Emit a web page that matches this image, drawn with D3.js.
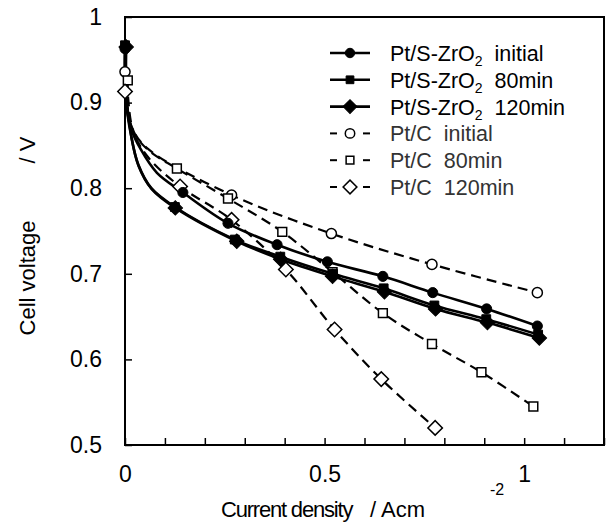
<!DOCTYPE html>
<html>
<head>
<meta charset="utf-8">
<script src="https://cdn.jsdelivr.net/npm/d3@7"></script>
<style>
  body { margin: 0; background: #fff; }
  svg text { font-family: "Liberation Sans", Arial, sans-serif; }
</style>
</head>
<body>
<div id="chart"></div>
<script>
var svgWidth = 606;
var svgHeight = 531;

var margin = { top: 17, right: 2, bottom: 86, left: 125 };
var width = svgWidth - margin.left - margin.right;
var height = svgHeight - margin.top - margin.bottom;

// series names (legend order)
var seriesNames = ["initial", "80min", "120min", "initial", "80min", "120min"];

// measured points (with markers): [current density, cell voltage]
var szInitial = [[0, 0.963], [0.145, 0.795], [0.258, 0.759], [0.381, 0.734], [0.507, 0.714],
  [0.646, 0.697], [0.771, 0.678], [0.906, 0.659], [1.033, 0.639]];
var sz80 = [[0, 0.967], [0.125, 0.778], [0.275, 0.740], [0.389, 0.720], [0.521, 0.700],
  [0.648, 0.683], [0.775, 0.663], [0.905, 0.647], [1.035, 0.629]];
var sz120 = [[0.003, 0.965], [0.126, 0.777], [0.280, 0.738], [0.390, 0.717], [0.520, 0.697],
  [0.650, 0.679], [0.778, 0.659], [0.908, 0.643], [1.038, 0.625]];
var ptcInitial = [[0, 0.936], [0.267, 0.792], [0.517, 0.747], [0.769, 0.711], [1.033, 0.678]];
var ptc80 = [[0.007, 0.926], [0.130, 0.823], [0.258, 0.788], [0.394, 0.749], [0.520, 0.702],
  [0.646, 0.654], [0.769, 0.618], [0.893, 0.585], [1.023, 0.545]];
var ptc120 = [[0, 0.913], [0.138, 0.802], [0.267, 0.763], [0.403, 0.705], [0.525, 0.635],
  [0.642, 0.577], [0.777, 0.520]];

// curve read off the picture near open circuit (no markers there)
var szInitialTail = [[0.002, 0.905], [0.015, 0.870], [0.040, 0.845], [0.080, 0.818]];
var sz80Tail = [[0.002, 0.905], [0.015, 0.862], [0.033, 0.828], [0.066, 0.800]];
var sz120Tail = [[0.004, 0.904], [0.016, 0.860], [0.034, 0.826], [0.067, 0.799]];
var ptcInitialTail = [[0.003, 0.905], [0.020, 0.868], [0.060, 0.845]];
var ptc80Tail = [[0.008, 0.905], [0.022, 0.866], [0.057, 0.845]];
var ptc120Tail = [[0.003, 0.903], [0.020, 0.866], [0.060, 0.835]];

var xTicks = d3.range(0, 1.21, 0.1);
var yTicks = d3.range(0.5, 1.001, 0.1);
var xTickLabels = [0, 0.5, 1];

var series = [
  { group: "Pt/S-ZrO", sub: "2", name: seriesNames[0], pts: szInitial, tail: szInitialTail, shape: "circle", filled: true },
  { group: "Pt/S-ZrO", sub: "2", name: seriesNames[1], pts: sz80, tail: sz80Tail, shape: "square", filled: true },
  { group: "Pt/S-ZrO", sub: "2", name: seriesNames[2], pts: sz120, tail: sz120Tail, shape: "diamond", filled: true },
  { group: "Pt/C", sub: "", name: seriesNames[3], pts: ptcInitial, tail: ptcInitialTail, shape: "circle", filled: false },
  { group: "Pt/C", sub: "", name: seriesNames[4], pts: ptc80, tail: ptc80Tail, shape: "square", filled: false },
  { group: "Pt/C", sub: "", name: seriesNames[5], pts: ptc120, tail: ptc120Tail, shape: "diamond", filled: false }
];

var svg = d3.select("#chart")
  .append("svg")
  .attr("width", svgWidth)
  .attr("height", svgHeight);

var chartGroup = svg.append("g")
  .attr("transform", `translate(${margin.left}, ${margin.top})`);

var xScale = d3.scaleLinear().domain([0, 1.2]).range([0, width]);
var yScale = d3.scaleLinear().domain([0.5, 1]).range([height, 0]);

// frame
chartGroup.append("rect")
  .attr("width", width)
  .attr("height", height)
  .attr("fill", "none")
  .attr("stroke", "#000")
  .attr("stroke-width", 2);

// inward ticks
var bottomAxis = d3.axisBottom(xScale)
  .tickValues(xTicks)
  .tickSizeInner(-7)
  .tickSizeOuter(0)
  .tickFormat(d => xTickLabels.some(v => Math.abs(v - d) < 1e-6) ? d3.format("")(+d.toFixed(1)) : "");
var leftAxis = d3.axisLeft(yScale)
  .tickValues(yTicks)
  .tickSizeInner(-7)
  .tickSizeOuter(0)
  .tickFormat(d => d3.format("")(+d.toFixed(1)));

var xAxis = chartGroup.append("g")
  .attr("transform", `translate(0, ${height})`)
  .call(bottomAxis);
var yAxis = chartGroup.append("g").call(leftAxis);

[xAxis, yAxis].forEach(function(ax) {
  ax.select(".domain").remove();
  ax.selectAll(".tick line").attr("stroke", "#000").attr("stroke-width", 1.5);
  ax.selectAll(".tick text")
    .attr("fill", "#000")
    .attr("font-size", "23px");
});
xAxis.selectAll(".tick text").attr("y", 21);
yAxis.selectAll(".tick text").attr("x", -23);

var line = d3.line()
  .x(d => xScale(d[0]))
  .y(d => yScale(d[1]))
  .curve(d3.curveCatmullRom.alpha(0.5));

function markerPath(shape, big) {
  if (shape === "circle") return d3.symbol(d3.symbolCircle, big ? 80 : 70)();
  if (shape === "square") return d3.symbol(d3.symbolSquare, big ? 78 : 60)();
  return d3.symbol(d3.symbolSquare, big ? 105 : 95)();
}

// dashed Pt/C lines first, solid lines over them
var drawOrder = [3, 4, 5, 0, 1, 2];
drawOrder.forEach(function(i) {
  var s = series[i];
  var pts = [s.pts[0]].concat(s.tail, s.pts.slice(1));
  chartGroup.append("path")
    .datum(pts)
    .attr("d", line)
    .attr("fill", "none")
    .attr("stroke", "#000")
    .attr("stroke-width", s.filled ? 2.6 : 2.2)
    .attr("stroke-dasharray", s.filled ? null : "10,6");
});

drawOrder.forEach(function(i) {
  var s = series[i];
  chartGroup.selectAll(null)
    .data(s.pts)
    .enter()
    .append("path")
    .attr("d", markerPath(s.shape, true))
    .attr("transform", d => `translate(${xScale(d[0])}, ${yScale(d[1])})` + (s.shape === "diamond" ? " rotate(45)" : ""))
    .attr("fill", s.filled ? "#000" : "#fff")
    .attr("stroke", "#000")
    .attr("stroke-width", s.filled ? 1 : 1.5);
});

// legend
var legend = svg.append("g").attr("transform", "translate(330, 53)");
series.forEach(function(s, i) {
  var row = legend.append("g").attr("transform", `translate(0, ${i * 26.8})`);
  if (s.filled) {
    row.append("line").attr("x1", 0).attr("x2", 40)
      .attr("stroke", "#000").attr("stroke-width", 2.6);
  } else {
    row.append("line").attr("x1", 0).attr("x2", 7)
      .attr("stroke", "#000").attr("stroke-width", 2);
    row.append("line").attr("x1", 33).attr("x2", 40)
      .attr("stroke", "#000").attr("stroke-width", 2);
  }
  row.append("path")
    .attr("d", markerPath(s.shape, false))
    .attr("transform", "translate(20, 0)" + (s.shape === "diamond" ? " rotate(45)" : ""))
    .attr("fill", s.filled ? "#000" : "#fff")
    .attr("stroke", "#000")
    .attr("stroke-width", s.filled ? 1 : 1.5);
  var t = row.append("text")
    .attr("x", 60)
    .attr("y", 8)
    .attr("font-size", "21.5px")
    .attr("fill", s.filled ? "#000" : "#333");
  t.append("tspan").text(s.group);
  if (s.sub) {
    t.append("tspan").attr("font-size", "14px").attr("dy", 5).text(s.sub);
    t.append("tspan").attr("dy", -5).text("\u00a0 " + s.name);
  } else {
    t.append("tspan").text("\u00a0 " + s.name);
  }
});

// axis titles
svg.append("text")
  .attr("transform", "translate(35, 278) rotate(-90)")
  .attr("text-anchor", "middle")
  .attr("font-size", "22px")
  .text("Cell voltage");
svg.append("text")
  .attr("transform", "translate(35, 150) rotate(-90)")
  .attr("text-anchor", "middle")
  .attr("font-size", "22px")
  .text("/ V");

svg.append("text")
  .attr("x", 221)
  .attr("y", 517)
  .attr("font-size", "22px")
  .attr("letter-spacing", "-1.2")
  .text("Current density");
svg.append("text")
  .attr("x", 370)
  .attr("y", 517)
  .attr("font-size", "22px")
  .text("/  Acm");
svg.append("text")
  .attr("x", 490)
  .attr("y", 495)
  .attr("font-size", "16px")
  .text("-2");
</script>
</body>
</html>
